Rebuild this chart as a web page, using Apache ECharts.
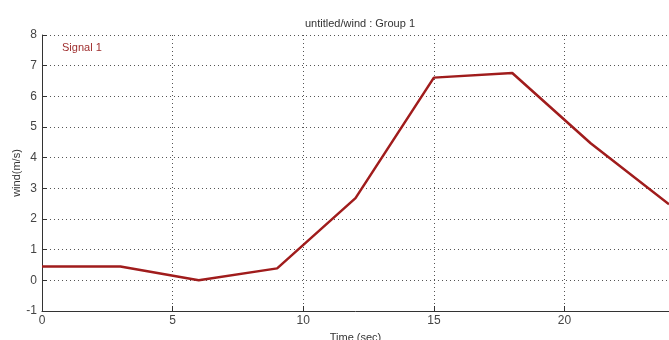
<!DOCTYPE html>
<html>
<head>
<meta charset="utf-8">
<script src="https://cdn.jsdelivr.net/npm/echarts@6/dist/echarts.min.js"></script>
<style>html,body{margin:0;padding:0;background:#fff;}#c{width:669px;height:340px;}</style>
</head>
<body>
<div id="c"></div>
<script>
var timeValues = [0, 3, 6, 9, 12, 15, 18, 21, 24];
var windValues = [0.45, 0.45, 0.0, 0.39, 2.68, 6.61, 6.76, 4.47, 2.48];
var xTicks = [0, 5, 10, 15, 20];
var yTicks = [-1, 0, 1, 2, 3, 4, 5, 6, 7, 8];

var chart = echarts.init(document.getElementById('c'), null, {renderer: 'canvas'});
var pts = timeValues.map(function (t, i) { return [t, windValues[i]]; });
var font = 'Liberation Sans, Arial, sans-serif';
chart.setOption({
  animation: false,
  backgroundColor: '#fff',
  title: {
    text: 'untitled/wind : Group 1',
    left: 355, top: 13, textAlign: 'center',
    textStyle: {fontSize: 11, fontWeight: 'normal', color: '#333', fontFamily: font}
  },
  legend: {
    data: ['Signal 1'], left: 52, top: 37, itemWidth: 0, itemHeight: 0, itemGap: 0,
    icon: 'rect',
    textStyle: {color: '#a03030', fontSize: 11, fontFamily: font}
  },
  grid: {left: 42, right: 0, top: 35, bottom: 29, containLabel: false, outerBoundsMode: 'none'},
  xAxis: {
    type: 'value', min: 0, max: 24, interval: 5,
    name: 'Time (sec)', nameLocation: 'middle', nameGap: 21,
    nameTextStyle: {fontSize: 11, color: '#333', fontFamily: font},
    axisLine: {show: true, onZero: false, lineStyle: {color: '#333', width: 1}},
    axisTick: {show: true, inside: true, length: 5, lineStyle: {color: '#333'}},
    axisLabel: {color: '#444', fontSize: 12, margin: 4, fontFamily: font, showMaxLabel: false,
      formatter: function (v) { return xTicks.indexOf(v) >= 0 ? String(v) : ''; }},
    splitLine: {show: true, lineStyle: {color: '#555', type: [1, 3], width: 1}}
  },
  yAxis: {
    type: 'value', min: -1, max: 8, interval: 1,
    name: 'wind(m/s)', nameLocation: 'middle', nameGap: 20, nameRotate: 90, nameMoveOverlap: false,
    nameTextStyle: {fontSize: 11, color: '#333', fontFamily: font},
    axisLine: {show: true, onZero: false, lineStyle: {color: '#333', width: 1}},
    axisTick: {show: true, inside: true, length: 5, lineStyle: {color: '#333'}},
    axisLabel: {color: '#444', fontSize: 12, margin: 5, fontFamily: font,
      formatter: function (v) { return yTicks.indexOf(v) >= 0 ? String(v) : ''; }},
    splitLine: {show: true, lineStyle: {color: '#555', type: [1, 3], width: 1}}
  },
  series: [{
    name: 'Signal 1', type: 'line', data: pts, showSymbol: false, symbol: 'none',
    lineStyle: {color: '#a01c1c', width: 2.5}, itemStyle: {color: '#a01c1c'}
  }]
});
</script>
</body>
</html>
